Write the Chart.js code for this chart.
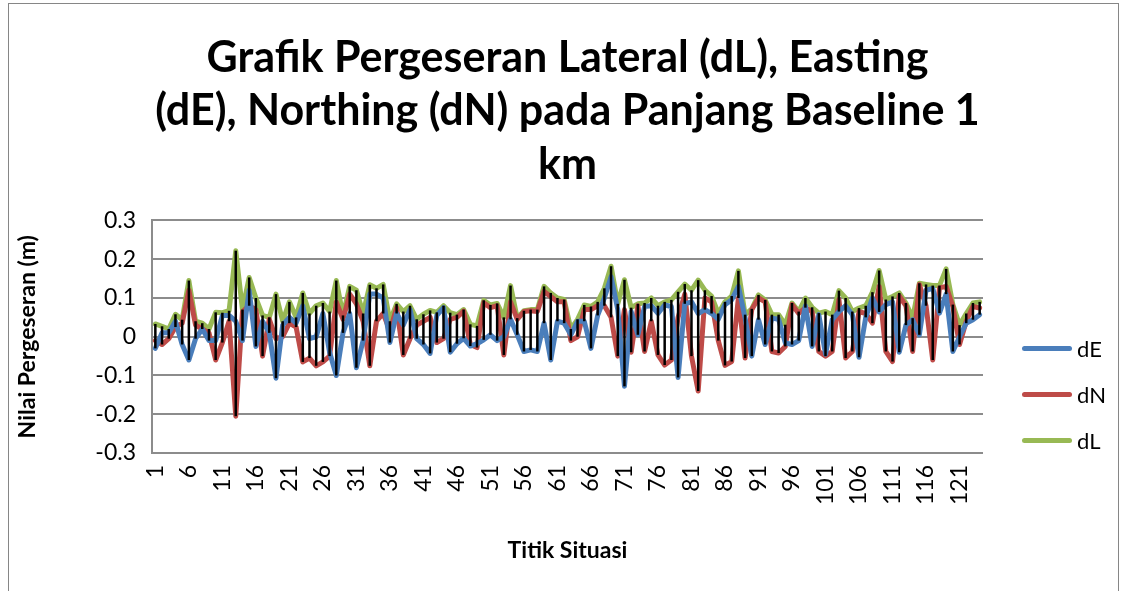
<!DOCTYPE html>
<html>
<head>
<meta charset="utf-8">
<script src="https://cdn.jsdelivr.net/npm/chart.js@4.4.0/dist/chart.umd.min.js"></script>
<style>
    html, body { margin: 0; padding: 0; background: #fff; }
    #wrap { position: relative; width: 1122px; height: 591px; overflow: hidden; }
    #frame { position: absolute; left: 8px; top: 3px; width: 1109px; height: 620px; border: 1px solid #868686; pointer-events: none; }
    #legenda { position: absolute; left: 1022px; top: 325px; list-style: none; margin: 0; padding: 0; font-family: Lato, sans-serif; font-size: 22px; color: #000; }
    #legenda li { display: flex; align-items: center; height: 46px; }
    #legenda .linha { display: inline-block; width: 50px; height: 5px; border-radius: 3px; margin-right: 5px; }
</style>
</head>
<body>
<div id="wrap">
    <canvas id="grafikPergeseran" width="1122" height="591"></canvas>
    <div id="frame"></div>
    <ul id="legenda"></ul>
</div>
<script>
// Nomor titik situasi (kategori sumbu X)
const titik = Array.from({ length: 124 }, (_, i) => String(i + 1));
const labelTampil = ['1', '6', '11', '16', '21', '26', '31', '36', '41', '46', '51', '56', '61',
    '66', '71', '76', '81', '86', '91', '96', '101', '106', '111', '116', '121'];

// Pergeseran Easting (m)
const dE = [
    -0.03, 0.01, 0.01, 0.04, -0.02, -0.06, -0.005, 0.02, -0.01, -0.01,
    0.055, 0.055, 0.04, -0.01, 0.12, -0.025, 0.04, 0.01, -0.107, 0.03,
    0.05, 0.035, 0.08, -0.005, 0.0, 0.06, -0.04, -0.1, 0.01, 0.06,
    -0.08, -0.01, 0.11, 0.11, 0.1, -0.015, 0.06, 0.03, 0.07, -0.005,
    -0.02, -0.043, 0.055, 0.075, -0.04, -0.018, -0.004, -0.024, -0.018, -0.008,
    0.005, -0.01, 0.0, 0.045, 0.005, -0.038, -0.034, -0.038, 0.035, -0.06,
    0.04, 0.035, 0.005, 0.04, 0.04, -0.03, 0.055, 0.1, 0.155, 0.07,
    -0.128, 0.065, 0.005, 0.078, 0.08, 0.06, 0.082, 0.078, -0.105, 0.085,
    0.09, 0.06, 0.07, 0.06, 0.045, 0.083, 0.095, 0.13, 0.048, -0.05,
    0.044, -0.02, 0.048, 0.045, -0.016, -0.02, -0.01, 0.08, -0.025, 0.057,
    -0.045, 0.044, 0.065, 0.08, 0.057, -0.053, 0.05, 0.1, 0.064, 0.083,
    0.09, -0.04, 0.03, 0.044, 0.005, 0.12, 0.125, 0.061, 0.11, -0.038,
    0.0, 0.035, 0.044, 0.057
];

// Pergeseran Northing (m)
const dN = [
    -0.01, -0.02, -0.005, 0.025, 0.035, 0.12, 0.03, 0.02, 0.01, -0.06,
    -0.015, 0.04, -0.205, 0.065, 0.08, 0.07, -0.05, 0.045, -0.005, 0.0,
    0.035, 0.025, -0.065, -0.055, -0.075, -0.065, -0.05, 0.09, 0.045, 0.11,
    0.085, 0.04, -0.075, 0.04, 0.06, 0.015, 0.075, -0.047, -0.005, 0.03,
    0.04, 0.05, -0.015, -0.005, 0.045, 0.05, 0.066, -0.02, -0.028, 0.088,
    0.075, 0.08, -0.047, 0.09, 0.045, 0.065, 0.067, 0.065, 0.117, 0.104,
    0.09, 0.09, -0.01, 0.0, 0.07, 0.07, 0.08, 0.08, 0.05, -0.05,
    0.07, -0.04, 0.08, -0.038, 0.04, -0.047, -0.073, -0.06, 0.05, 0.11,
    -0.05, -0.14, 0.1, 0.09, -0.01, -0.074, -0.064, 0.1, -0.055, 0.07,
    0.1, 0.09, -0.038, -0.042, -0.025, 0.083, 0.06, 0.075, 0.065, -0.038,
    -0.05, -0.038, 0.096, -0.055, -0.038, 0.065, 0.06, 0.035, 0.13, -0.038,
    -0.064, 0.105, 0.08, -0.038, 0.135, 0.08, -0.06, 0.126, 0.13, 0.078,
    -0.02, 0.04, 0.078, 0.074
];

// Pergeseran Lateral (m)
const dL = [
    0.033, 0.027, 0.02, 0.058, 0.044, 0.145, 0.04, 0.035, 0.02, 0.063,
    0.062, 0.067, 0.222, 0.07, 0.153, 0.1, 0.055, 0.05, 0.11, 0.04,
    0.09, 0.05, 0.113, 0.06, 0.08, 0.087, 0.065, 0.145, 0.055, 0.13,
    0.12, 0.06, 0.134, 0.125, 0.135, 0.04, 0.085, 0.065, 0.08, 0.045,
    0.058, 0.068, 0.063, 0.08, 0.062, 0.057, 0.07, 0.032, 0.028, 0.094,
    0.082, 0.086, 0.05, 0.132, 0.048, 0.067, 0.07, 0.07, 0.13, 0.113,
    0.1, 0.096, 0.02, 0.045, 0.082, 0.078, 0.09, 0.125, 0.182, 0.085,
    0.147, 0.075, 0.085, 0.087, 0.1, 0.08, 0.09, 0.095, 0.116, 0.136,
    0.12, 0.146, 0.12, 0.105, 0.06, 0.09, 0.105, 0.17, 0.057, 0.072,
    0.108, 0.095, 0.057, 0.057, 0.031, 0.087, 0.065, 0.1, 0.076, 0.061,
    0.065, 0.057, 0.119, 0.1, 0.065, 0.074, 0.08, 0.115, 0.171, 0.096,
    0.104, 0.113, 0.087, 0.048, 0.138, 0.135, 0.132, 0.132, 0.175, 0.083,
    0.03, 0.06, 0.087, 0.09
];

const seri = [
    { label: 'dE', data: dE, warna: '#4A7EBB' },
    { label: 'dN', data: dN, warna: '#BE4B48' },
    { label: 'dL', data: dL, warna: '#98B954' }
];

const FONT = 'Lato, "DejaVu Sans", sans-serif';

// Garis tinggi-rendah (hitam) dari nilai tertinggi ke terendah di tiap titik
const garisHiLo = {
    id: 'garisHiLo',
    afterDatasetsDraw(chart) {
        const { ctx, scales: { x, y } } = chart;
        ctx.save();
        ctx.strokeStyle = '#000';
        ctx.lineWidth = 2.5;
        titik.forEach((t, i) => {
            const nilai = seri.map(s => s.data[i]);
            const px = x.getPixelForValue(i);
            ctx.beginPath();
            ctx.moveTo(px, y.getPixelForValue(Math.max(...nilai)));
            ctx.lineTo(px, y.getPixelForValue(Math.min(...nilai)));
            ctx.stroke();
        });
        ctx.restore();
    }
};

new Chart(document.getElementById('grafikPergeseran'), {
    type: 'line',
    data: {
        labels: titik,
        datasets: seri.map(s => ({
            label: s.label,
            data: s.data,
            borderColor: s.warna,
            backgroundColor: s.warna,
            borderWidth: 5,
            borderJoinStyle: 'round',
            borderCapStyle: 'round',
            pointRadius: 0,
            tension: 0,
            fill: false
        }))
    },
    options: {
        responsive: false,
        animation: false,
        layout: { padding: { left: 0, right: 139, top: 0, bottom: 0 } },
        plugins: {
            legend: { display: false },
            tooltip: { enabled: false },
            title: {
                display: true,
                fullSize: false,
                text: ['Grafik Pergeseran Lateral (dL), Easting',
                       '(dE), Northing (dN) pada Panjang Baseline 1',
                       'km'],
                color: '#000',
                font: { family: FONT, size: 43, weight: 'bold', lineHeight: 1.244 },
                padding: { top: 31, bottom: 29 }
            }
        },
        scales: {
            x: {
                offset: true,
                grid: { display: false, drawTicks: false },
                border: { display: false },
                ticks: {
                    autoSkip: false,
                    minRotation: 90,
                    maxRotation: 90,
                    padding: 12,
                    color: '#000',
                    font: { family: FONT, size: 23 },
                    callback: function (val, idx) {
                        const lbl = titik[idx];
                        return labelTampil.includes(lbl) ? lbl : '';
                    }
                },
                title: {
                    display: true,
                    text: 'Titik Situasi',
                    color: '#000',
                    font: { family: FONT, size: 23, weight: 'bold' },
                    padding: { top: 0, bottom: 27 }
                },
                afterFit: (scale) => { scale.height = 138; }
            },
            y: {
                min: -0.3,
                max: 0.3,
                grid: { color: '#8c8c8c', lineWidth: 2, drawTicks: false },
                border: { display: true, color: '#8c8c8c', width: 2 },
                ticks: {
                    stepSize: 0.1,
                    padding: 16,
                    color: '#000',
                    font: { family: FONT, size: 23 },
                    callback: (v) => String(parseFloat(v.toFixed(1)))
                },
                title: {
                    display: true,
                    text: 'Nilai Pergeseran (m)',
                    color: '#000',
                    font: { family: FONT, size: 23, weight: 'bold' },
                    padding: { top: 14, bottom: 0 }
                },
                afterFit: (scale) => { scale.width = 152; }
            }
        }
    },
    plugins: [garisHiLo]
});

// Legenda di sebelah kanan
const legenda = document.getElementById('legenda');
seri.forEach(s => {
    const li = document.createElement('li');
    li.innerHTML = `<span class="linha" style="background:${s.warna}"></span>${s.label}`;
    legenda.appendChild(li);
});
</script>
</body>
</html>
